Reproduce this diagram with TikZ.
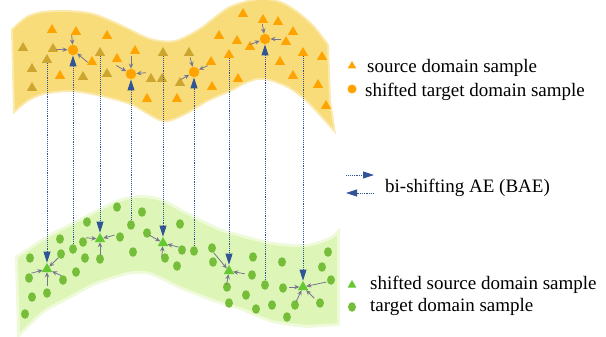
\documentclass[tikz,border=0pt]{standalone}
\usepackage{fontspec}
\setmainfont{Liberation Serif}
\newfontfamily\legendfont{Liberation Serif}
\usetikzlibrary{shapes.geometric,arrows.meta}

\definecolor{bandyellow}{RGB}{249,220,122}
\definecolor{srcorange}{RGB}{255,163,0}
\definecolor{srcolive}{RGB}{205,166,48}
\definecolor{bandgreen}{RGB}{221,245,182}
\definecolor{tgtgreen}{RGB}{118,190,58}
\definecolor{baeblue}{RGB}{47,85,151}
\definecolor{pullgray}{RGB}{118,118,140}

% short gray arrow pulling a sample towards a shifted one
\newcommand{\pull}[3]{\draw[pull] ([shift={(#2:#3pt)}]#1.center) -- (#1);}

\begin{document}
\begin{tikzpicture}[x=1pt,y=-1pt]
\tikzset{srctri/.style={regular polygon, regular polygon sides=3, fill=srcorange, inner sep=0pt, minimum size=12pt},
  olivetri/.style={srctri, fill=srcolive},
  shiftdot/.style={circle, fill=srcorange, inner sep=0pt, minimum size=10.5pt},
  tgtdot/.style={ellipse, fill=tgtgreen, inner sep=0pt, minimum width=8pt, minimum height=9.5pt},
  shifttri/.style={srctri, fill=tgtgreen!85!green},
  bae/.style={baeblue, densely dotted, line width=0.9pt, -{Triangle[width=7pt,length=11pt]}},
  pull/.style={pullgray, line width=0.8pt, -{Stealth[width=4.5pt,length=5pt]}},
  legtext/.style={anchor=base west, inner sep=0pt, font=\legendfont\fontsize{19}{23}\selectfont}}
\useasboundingbox (0,0) rectangle (606,337);

% legend
\node[legtext] (legsrctext) at (367,73) {source domain sample};
\node[legtext] (legshifttext) at (365,96) {shifted target domain sample};
\node[legtext] (baetext) at (385,192) {bi-shifting AE (BAE)};
\node[legtext] (legshtritext) at (370,289) {shifted source domain sample};
\node[legtext] (legtgttext) at (370,311) {target domain sample};
\node[srctri, minimum size=10pt] (legsrc) at (352,66) {};
\node[shiftdot, minimum size=9pt] (legshift) at (352,89) {};
\coordinate (baeA) at (346,175);
\coordinate (baeB) at (374,175);
\coordinate (baeC) at (374,193);
\coordinate (baeD) at (346,193);
\draw[bae] (baeA) -- (baeB);
\draw[bae] (baeC) -- (baeD);
\node[shifttri, minimum size=10pt] (legshtri) at (352,285) {};
\node[tgtdot] (legtgt) at (352,307) {};

% source domain band
\path[fill=bandyellow, preaction={draw=bandyellow!60!white, line width=4pt}] plot[smooth] coordinates {(13,30) (27,18) (43,13) (67,12) (93,15) (120,26) (150,40) (175,42) (200,30) (230,8) (260,0) (280,3) (297,13) (313,27) (327,45)}
  -- (329,100) -- plot[smooth] coordinates {(333,128) (323,117) (307,100) (290,87) (270,79) (257,78) (243,83) (230,90) (207,100) (185,113) (163,120) (133,104) (110,97) (87,92) (67,90) (43,93) (27,100) (15,110)} -- cycle;

% target domain band
\path[fill=bandgreen, preaction={draw=bandgreen!50!white, line width=6pt}] plot[smooth] coordinates {(18,258) (50,237) (83,220) (117,203) (140,198) (160,201) (183,213) (217,230) (240,237) (273,245) (307,247) (330,240) (337,235)}
  -- (337,323) -- plot[smooth] coordinates {(307,325) (273,320) (240,307) (217,300) (183,287) (150,272) (127,272) (93,283) (67,297) (43,310) (20,332)} -- cycle;

% source samples
\foreach \pos in {(52,30),(76,32),(107,36),(135,51),(60,76),(92,62),(117,59),(211,62),(212,87),(147,99),(177,99),(219,36),(237,41),(238,79),(243,14),(263,20),(278,22),(293,32),(286,42),(250,47),(280,62),(322,57),(293,76),(318,85),(326,106)}
  \node[srctri] at \pos {};
\foreach \pos in {(23,48),(53,49),(32,69),(83,77),(107,74),(32,88),(189,53),(151,79),(162,79),(180,83)}
  \node[olivetri] at \pos {};
\node[olivetri] (t1) at (47,60) {};
\node[olivetri] (t2) at (100,53) {};
\node[olivetri] (t3) at (163,53) {};
\node[srctri] (t4) at (229,55) {};
\node[srctri] (t5) at (303,53) {};

% target samples
\foreach \pos in {(117,207),(142,212),(87,222),(180,224),(60,239),(83,242),(120,237),(147,233),(61,254),(30,258),(133,252),(182,250),(212,248),(85,258),(100,259),(165,258),(213,262),(253,257),(282,262),(328,252),(322,267),(331,280),(29,278),(63,280),(76,272),(177,266),(252,275),(283,288),(32,297),(47,293),(227,287),(246,295),(229,303),(256,309),(272,305),(295,305),(320,303),(25,314),(287,317)}
  \node[tgtdot] at \pos {};
\node[tgtdot] (d1) at (73,249) {};
\node[tgtdot] (d2) at (131,225) {};
\node[tgtdot] (d3) at (194,251) {};
\node[tgtdot] (d4) at (265,285) {};

% shifted samples
\node[shiftdot] (s1) at (73,50) {};
\node[shiftdot] (s2) at (131,74) {};
\node[shiftdot] (s3) at (194,72) {};
\node[shiftdot] (s4) at (265,39) {};
\node[shifttri] (g1) at (47,269) {};
\node[shifttri] (g2) at (100,239) {};
\node[shifttri] (g3) at (163,243) {};
\node[shifttri] (g4) at (229,271) {};
\node[shifttri] (g5) at (303,287) {};

% bi-shifting
\draw[bae] (t1) -- (g1);
\draw[bae] (t2) -- (g2);
\draw[bae] (t3) -- (g3);
\draw[bae] (t4) -- (g4);
\draw[bae] (t5) -- (g5);
\draw[bae] (d1) -- (s1);
\draw[bae] (d2) -- (s2);
\draw[bae] (d3) -- (s3);
\draw[bae] (d4) -- (s4);

\pull{s1}{95}{15} \pull{s1}{178}{17} \pull{s1}{-40}{19}
\pull{s2}{90}{18} \pull{s2}{150}{17} \pull{s2}{5}{15}
\pull{s3}{105}{15} \pull{s3}{-150}{15} \pull{s3}{25}{15}
\pull{s4}{100}{15} \pull{s4}{-160}{16} \pull{s4}{0}{16}
\pull{g1}{45}{16} \pull{g1}{195}{16} \pull{g1}{-25}{16} \pull{g1}{-90}{17}
\pull{g2}{15}{15} \pull{g2}{175}{14} \pull{g2}{-90}{16}
\pull{g3}{150}{16} \pull{g3}{-15}{16} \pull{g3}{-95}{14}
\pull{g4}{130}{24} \pull{g4}{-10}{16} \pull{g4}{-100}{14}
\pull{g5}{12}{24} \pull{g5}{180}{14} \pull{g5}{-115}{16} \pull{g5}{-45}{16}
\end{tikzpicture}
\end{document}
